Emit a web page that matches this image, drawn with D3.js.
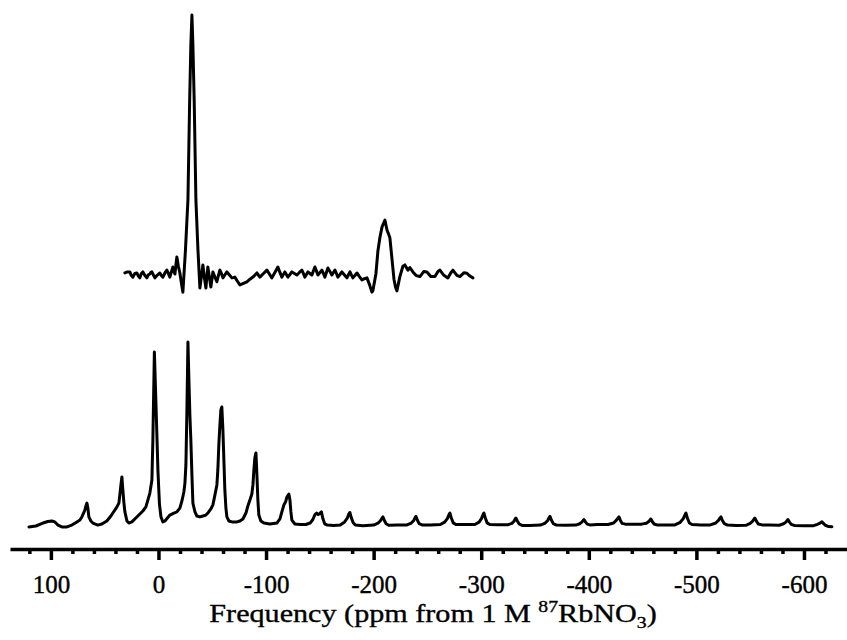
<!DOCTYPE html>
<html>
<head>
<meta charset="utf-8">
<script src="https://cdn.jsdelivr.net/npm/d3@7/dist/d3.min.js"></script>
<style>
  html, body { margin: 0; padding: 0; background: #fff; }
  svg { display: block; }
  text { font-family: "Liberation Serif", "DejaVu Serif", serif; fill: #000; }
</style>
</head>
<body>
<svg id="chart" width="847" height="640"></svg>
<script>
// ---------- DATA ----------
// Tick values (ppm) and labels
const majorTicks = [100, 0, -100, -200, -300, -400, -500, -600];
const tickLabels = ["100", "0", "-100", "-200", "-300", "-400", "-500", "-600"];
const minorTicks = [120, 80, 60, 40, 20, -20, -40, -60, -80, -120, -140, -160, -180,
  -220, -240, -260, -280, -320, -340, -360, -380, -420, -440, -460, -480,
  -520, -540, -560, -580, -620];
const axisExtent = [138, -640];

// Upper (inset) spectrum: chemical shift (ppm) and relative intensity
const upperShift = [31.2, 28.9, 26.6, 25.2, 23.8, 21.9, 20.1, 18.7, 17.3, 15.9, 14.5, 12.6, 10.8, 9.4,
  8.0, 7.0, 6.1, 4.7, 3.3, 1.0, -1.3, -2.7, -4.1, -6.0, -7.8, -9.2, -10.6, -12.0, -13.4, -14.4,
  -15.3, -16.2, -17.1, -18.5, -19.9, -21.3, -22.7, -25.1, -27.4, -29.0, -30.1, -31.1, -32.0,
  -33.2, -34.8, -36.7, -38.5, -39.9, -41.3, -42.7, -44.1, -45.0, -45.9, -47.3, -48.7, -49.7,
  -50.6, -52.5, -54.3, -55.7, -57.1, -58.5, -59.9, -61.8, -63.6, -66.0, -68.3, -69.7, -71.0,
  -73.4, -75.7, -79.0, -82.2, -85.0, -87.8, -89.7, -91.5, -92.9, -94.3, -97.6, -100.8, -103.1,
  -105.4, -108.2, -111.0, -112.9, -114.7, -116.1, -117.5, -118.9, -120.3, -122.2, -124.0,
  -126.4, -128.7, -131.0, -133.3, -134.7, -136.1, -137.5, -138.9, -140.8, -142.6, -144.0,
  -145.4, -146.8, -148.2, -150.1, -151.9, -153.3, -154.7, -156.1, -157.5, -159.4, -161.2,
  -162.6, -164.0, -165.4, -166.8, -168.7, -170.5, -172.9, -175.2, -176.6, -178.0, -179.4,
  -180.7, -182.6, -184.5, -186.8, -189.1, -191.5, -193.8, -196.1, -198.4, -199.3, -202.1,
  -204.0, -205.8, -207.7, -209.1, -210.5, -211.4, -212.4, -213.8, -215.1, -217.0, -218.9,
  -220.3, -221.6, -224.4, -227.2, -229.0, -231.9, -233.7, -236.5, -239.3, -241.2, -243.0,
  -246.7, -249.5, -253.2, -257.0, -259.8, -261.6, -265.3, -269.0, -271.8, -273.7, -277.4,
  -280.2, -283.9, -286.7, -289.5, -292.3];
const upperIntensity = [0.4, 0.8, 0.8, -0.6, -1.2, 0.2, 0.4, -0.8, -1.5, 0.2, 0.8, -0.6, -1.5, -0.3,
  0.0, 0.6, 0.8, -0.4, -1.5, -0.4, 0.4, -0.6, -1.2, 0.4, 1.5, 0.2, -1.2, 0.8, 2.7, 1.0,
  0.0, 3.4, 6.6, 3.0, 0.4, -3.5, -7.0, 9.3, 28.6, 67.2, 88.4, 100, 88.4,
  67.2, 28.6, 9.3, -5.4, -1.0, 3.5, -1.5, -5.4, -1.0, 2.7, -1.2, -5.0, -2.0,
  0.8, -1.2, -3.0, -0.6, 1.5, 0.2, -1.5, -0.3, 0.8, -0.4, -1.5, -1.4, -1.2,
  -2.8, -4.2, -3.6, -3.0, -2.0, -1.2, -0.4, 0.4, -0.4, -1.2, 0.2, 1.5, 0.0,
  -1.5, 0.6, 2.7, 0.6, -1.2, -0.2, 0.8, -0.2, -1.2, -0.2, 0.8,
  0.2, -0.4, 0.6, 1.5, 0.2, -1.2, -0.2, 0.8, 0.2, -0.4, 1.2,
  2.7, 1.2, -0.4, 0.6, 1.5, 0.2, -1.2, 0.6, 2.3, 1.0, -0.4,
  0.6, 1.5, 0.2, -1.2, -0.2, 0.8, -0.4, -1.5, -0.3, 0.8, -0.4,
  -1.5, -0.6, 0.4, -1.0, -2.3, -1.8, -1.5, -4.0, -7.0, -6.5, 0.0,
  9.0, 14.0, 18.0, 19.5, 20.8, 19.0, 17.0, 15.5, 14.0, 6.0, -2.0,
  -5.0, -6.5, -1.0, 3.0, 3.5, 1.5, 2.5, 0.8, -0.5, -0.8, -1.0,
  1.0, 0.8, -1.0, -1.0, 1.0, 1.5, -0.5, -1.5, 0.5, 1.5, -0.5,
  -1.0, 0.5, 0.3, -0.8, -1.5];

// Lower (full MAS) spectrum: chemical shift (ppm) and relative intensity
const lowerShift = [120.4, 114.0, 107.4, 102.8, 99.1, 96.3, 93.5, 89.8, 85.1, 80.5, 75.8, 73.0,
  71.2, 68.4, 67.5, 66.5, 65.6, 64.7, 62.8, 61.0, 56.3, 52.6, 48.0, 44.2, 42.4, 38.6, 36.8,
  35.9, 34.9, 34.0, 33.1, 32.1, 31.2, 29.3, 27.5, 24.7, 20.1, 14.5, 11.7, 9.8, 8.0, 6.1, 5.2,
  3.8, 2.8, 1.5, 0.5, -0.9, -2.3, -4.1, -6.0, -10.6, -14.3, -17.1, -19.9, -21.8, -23.6, -24.6,
  -25.5, -26.4, -27.4, -28.3, -29.2, -30.1, -31.1, -32.0, -33.9, -35.7, -38.5, -41.3, -44.1,
  -45.9, -48.7, -50.6, -52.5, -54.3, -55.2, -56.1, -57.1, -58.0, -58.9, -59.9, -60.8, -61.7,
  -62.7, -63.6, -65.5, -68.3, -72.9, -75.7, -78.5, -81.3, -83.1, -85.0, -86.8, -87.8, -88.7,
  -89.6, -90.6, -91.5, -92.4, -93.3, -95.2, -98.0, -103.6, -110.1, -112.9, -114.7, -116.6,
  -118.4, -119.4, -121.2, -122.2, -123.1, -124.0, -126.8,
  -132, -137, -141, -143.5, -145.5, -147, -148.5, -150, -151.5, -152.8, -154.5, -157, -163,
  -169, -173, -175.5, -177, -177.9, -179.3, -181, -183, -190,
  -200, -204, -206.5, -208, -208.6, -210, -211.6, -214, -222,
  -231, -235, -237.3, -238.7, -239.3, -240.7, -242.3, -245, -253,
  -262, -266, -268.5, -270.2, -270.9, -272.3, -274, -276.5, -285,
  -294, -298, -300.2, -301.8, -302.5, -303.9, -305.5, -308, -316,
  -325, -328.5, -330.5, -331.7, -332.3, -333.7, -335.3, -338, -345,
  -355, -359.5, -361.8, -363.3, -363.9, -365.3, -367, -370, -378,
  -388, -391.5, -393.5, -395, -395.5, -397, -398.6, -401, -408,
  -418, -423, -425.5, -427.4, -428, -429.4, -431, -434, -440,
  -449, -453.5, -455.7, -457.1, -457.7, -459.1, -460.7, -464, -471,
  -480, -485, -487.8, -489.6, -490.3, -491.7, -493.5, -496, -504,
  -513, -518, -520.5, -522.2, -522.8, -524.2, -526, -529, -537,
  -546, -550, -552.3, -553.8, -554.4, -555.8, -557.5, -561, -568,
  -577, -581, -583.2, -584.6, -585.1, -586.5, -588.2, -591, -600,
  -609, -612.5, -614.8, -616.2, -616.7, -618.1, -619.8, -623, -626];
const lowerIntensity = [-0.5, 0.0, 1.6, 2.4, 2.7, 2.2, 0.5, -0.5, -0.5, 0.5, 2.2, 3.2,
  4.9, 8.6, 10.8, 12.4, 9.7, 4.9, 2.7, 1.6, 0.5, 1.1, 2.7, 5.4, 7.0, 10.3, 12.4,
  16.8, 22.2, 26.5, 19.5, 12.4, 7.6, 2.7, 1.6, 2.2, 4.9, 8.1, 10.3, 14.1, 17.8, 24.9, 46.5,
  94.1, 75.0, 50.0, 30.0, 12.0, 5.0, 2.2, 2.7, 5.9, 7.0, 7.6, 9.7, 13.5, 18.4, 23.2,
  33.0, 61.1, 99.5, 78.9, 60.0, 46.5, 27.6, 12.4, 7.6, 5.4, 4.9, 5.4, 5.9,
  7.0, 9.2, 11.4, 16.8, 22.2, 30.3, 43.8, 54.6, 62.7, 64.3, 51.9, 35.7, 19.5,
  9.7, 4.9, 2.7, 2.2, 2.2, 2.7, 3.8, 7.0, 10.8, 14.1, 17.3, 22.2, 30.3,
  36.8, 39.5, 27.6, 14.1, 5.9, 2.7, 1.6, 1.1, 1.6, 3.8, 7.6, 11.4,
  13.4, 15.7, 17.3, 14.1, 7.6, 3.2, 1.1,
  0.8, 0.8, 1.6, 3.5, 6.2, 7.0, 6.2, 6.8, 7.6, 4.0, 1.2, 0.5, 0.3,
  0.6, 2.2, 4.2, 6.6, 7.3, 4.4, 1.8, 0.5, 0.2,
  0.5, 1.5, 3.0, 4.5, 4.9, 3.0, 1.2, 0.4, 0.5,
  0.6, 1.6, 3.0, 4.7, 5.2, 3.1, 1.3, 0.6, 0.6,
  0.8, 2.1, 4.0, 6.3, 7.0, 4.2, 1.7, 0.8, 0.8,
  0.8, 2.1, 4.0, 6.3, 7.0, 4.2, 1.7, 0.8, 0.7,
  0.7, 1.4, 2.6, 3.9, 4.3, 2.6, 1.1, 0.3, 0.3,
  0.5, 1.6, 3.0, 4.7, 5.2, 3.1, 1.3, 0.5, 0.4,
  0.5, 1.2, 2.1, 3.2, 3.5, 2.1, 1.0, 0.6, 0.8,
  0.8, 1.6, 3.0, 4.5, 4.9, 3.0, 1.4, 1.0, 1.0,
  1.0, 1.5, 2.4, 3.5, 3.8, 2.3, 1.1, 0.5, 0.5,
  0.6, 2.0, 4.0, 6.3, 7.0, 4.2, 1.6, 0.8, 0.6,
  0.6, 1.6, 3.0, 4.5, 4.9, 3.0, 1.3, 0.5, 0.3,
  0.4, 1.4, 2.6, 3.9, 4.3, 2.6, 1.1, 0.6, 0.5,
  0.4, 1.2, 2.1, 3.2, 3.5, 2.1, 0.9, 0.3, 0.2,
  0.2, 0.9, 1.5, 2.1, 2.3, 1.4, 0.4, -0.3, -0.4];

// ---------- DRAWING ----------
const svg = d3.select("#chart");
const x = d3.scaleLinear().domain(axisExtent).range([10, 847]);
const yUpper = d3.scaleLinear().domain([0, 100]).range([274, 15]);
const yLower = d3.scaleLinear().domain([0, 100]).range([526, 341]);
const axisY = 549;

const upperData = upperShift.map((s, i) => [s, upperIntensity[i]]);
const lowerData = lowerShift.map((s, i) => [s, lowerIntensity[i]]);

svg.append("path")
  .datum(upperData)
  .attr("fill", "none").attr("stroke", "#000")
  .attr("stroke-width", 3).attr("stroke-linejoin", "round").attr("stroke-linecap", "round")
  .attr("d", d3.line().x(d => x(d[0])).y(d => yUpper(d[1])));

svg.append("path")
  .datum(lowerData)
  .attr("fill", "none").attr("stroke", "#000")
  .attr("stroke-width", 3).attr("stroke-linejoin", "round").attr("stroke-linecap", "round")
  .attr("d", d3.line().x(d => x(d[0])).y(d => yLower(d[1])));

// Minor ticks
const minorAxis = svg.append("g").attr("transform", `translate(0,${axisY})`)
  .call(d3.axisBottom(x).tickValues(minorTicks).tickSize(5).tickSizeOuter(0).tickFormat(""));
minorAxis.select(".domain").remove();
minorAxis.selectAll(".tick line").attr("stroke", "#000").attr("stroke-width", 3.5);

// Major ticks + labels
const majorAxis = svg.append("g").attr("transform", `translate(0,${axisY})`)
  .call(d3.axisBottom(x).tickValues(majorTicks).tickSize(11).tickSizeOuter(0)
    .tickFormat((d, i) => tickLabels[i]));
majorAxis.select(".domain").attr("stroke", "#000").attr("stroke-width", 3.5);
majorAxis.selectAll(".tick line").attr("stroke", "#000").attr("stroke-width", 3.5);
majorAxis.selectAll(".tick text")
  .attr("y", 44).attr("dy", 0)
  .style("font-family", "'Liberation Serif', serif")
  .style("font-size", "25px").attr("fill", "#000")
  .attr("stroke", "#000").attr("stroke-width", 0.4);

// Axis title (scanned lettering is slightly wider than regular Times)
const title = svg.append("text")
  .attr("transform", "translate(433,622) scale(1.16,1)")
  .attr("text-anchor", "middle")
  .attr("stroke", "#000").attr("stroke-width", 0.35)
  .style("font-family", "'Liberation Serif', serif")
  .style("font-size", "26px");
title.append("tspan").text("Frequency (ppm from 1 M ");
title.append("tspan").text("87").style("font-size", "17px").attr("dy", -10);
title.append("tspan").text("RbNO").attr("dy", 10);
title.append("tspan").text("3").style("font-size", "17px").attr("dy", 6);
title.append("tspan").text(")").attr("dy", -6);
</script>
</body>
</html>
